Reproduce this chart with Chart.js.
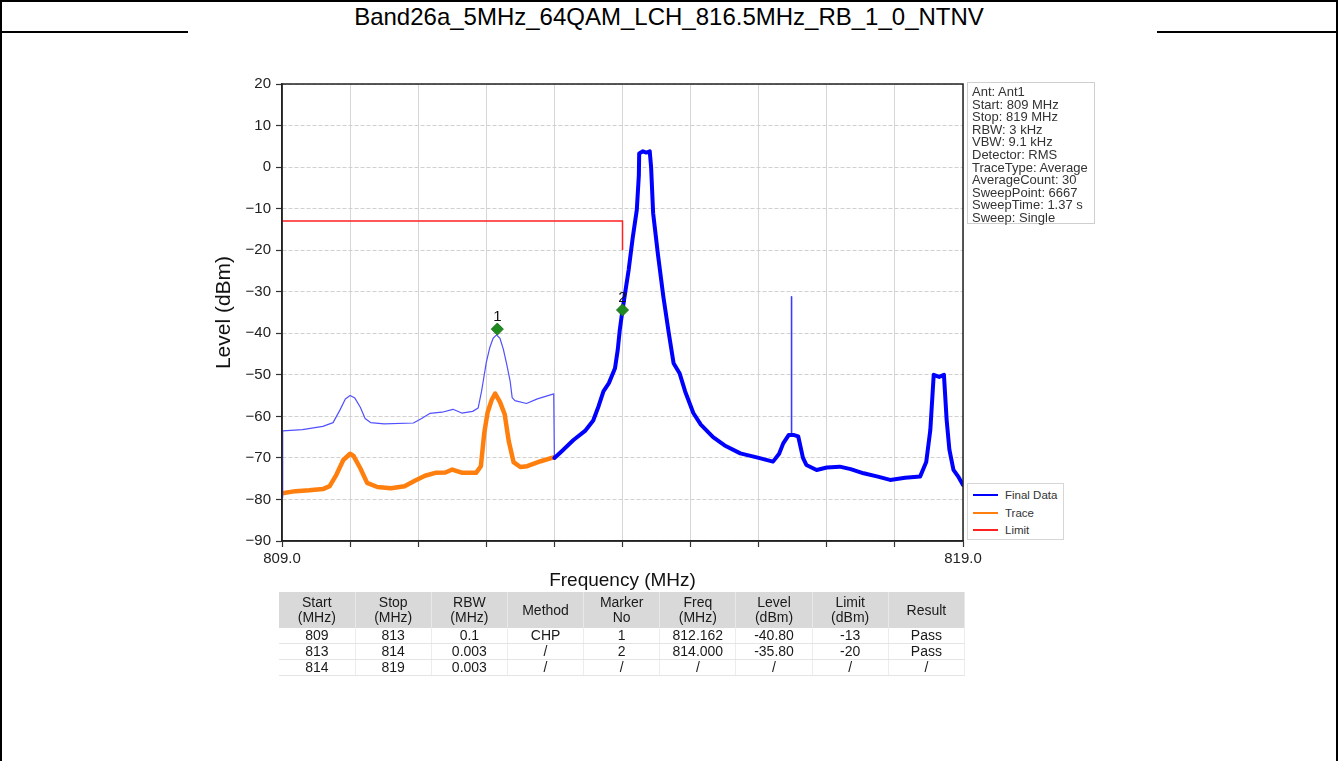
<!DOCTYPE html>
<html>
<head>
<meta charset="utf-8">
<script src="https://cdn.jsdelivr.net/npm/chart.js@4.4.1/dist/chart.umd.min.js"></script>
<style>
  html, body { margin:0; padding:0; background:#fff; width:1338px; height:761px; overflow:hidden; font-family:"Liberation Sans", Arial, sans-serif; }
  .abs { position:absolute; }
  #frame { left:0; top:0; width:1334px; height:800px; border:2px solid #000; }
  #titleRow { left:2px; top:2px; width:1334px; height:29px; border-bottom:2px solid #000; text-align:center; font-size:24px; line-height:29px; color:#000; }
  #imgArea { left:188px; top:31px; width:969px; height:660px; background:#fff; }
  #chartBox { left:200px; top:70px; width:785px; height:530px; }
  #info { left:967px; top:82px; width:128px; height:142px; border:1px solid #cfcfcf; background:#fff; font-size:13px; line-height:12.6px; color:#333; padding:3px 0 0 4px; box-sizing:border-box; white-space:nowrap; }
  #legend { left:967px; top:483px; width:95px; height:55px; border:1px solid #d6d6d6; background:#fff; font-size:11.5px; color:#333; }
  #legend .row { position:absolute; left:0; height:14px; line-height:14px; }
  #legend .sw { position:absolute; left:5px; top:6px; width:25px; height:2px; }
  #legend .tx { position:absolute; left:37px; top:0; white-space:nowrap; }
  table#tbl { left:279px; top:592px; width:686px; border-collapse:collapse; table-layout:fixed; font-size:14px; color:#1a1a1a; }
  #tbl th { background:#d9d9d9; font-weight:normal; line-height:15px; height:36px; padding:0; text-align:center; border-right:1px solid #e8e8e8; }
  #tbl td { line-height:15px; height:15px; padding:0; text-align:center; border-bottom:1px solid #e4e4e4; border-right:1px solid #ececec; }
</style>
</head>
<body>
<div id="frame" class="abs"></div>
<div id="titleRow" class="abs">Band26a_5MHz_64QAM_LCH_816.5MHz_RB_1_0_NTNV</div>
<div id="imgArea" class="abs"></div>
<div id="chartBox" class="abs"><canvas id="c"></canvas></div>
<div id="info" class="abs"></div>
<div id="legend" class="abs"></div>
<table id="tbl" class="abs"></table>

<script>
// ---------- DATA ----------
const finalFreq = [
  809.0, 809.01, 809.3, 809.6, 809.75, 809.85, 809.93, 810.0, 810.07, 810.15, 810.22, 810.3,
  810.5, 810.93, 811.05, 811.17, 811.35, 811.51, 811.64, 811.8, 811.88, 811.93, 811.96, 812.0,
  812.05, 812.1, 812.15, 812.2, 812.25, 812.3, 812.35, 812.38, 812.42, 812.59, 812.75, 812.99,
  813.0, 813.1, 813.28, 813.45, 813.57, 813.65, 813.72, 813.8, 813.89, 813.93, 813.96, 814.0,
  814.09, 814.15, 814.21, 814.24, 814.245, 814.3, 814.35, 814.4, 814.42, 814.45, 814.52, 814.6,
  814.68, 814.75, 814.84, 814.92, 815.04, 815.15, 815.33, 815.5, 815.73, 816.0, 816.21, 816.3,
  816.36, 816.44, 816.475, 816.48, 816.485, 816.52, 816.58, 816.65, 816.7, 816.85, 817.0, 817.19,
  817.35, 817.54, 817.75, 817.93, 818.15, 818.37, 818.46, 818.52, 818.57, 818.65, 818.72, 818.76,
  818.8, 818.86, 818.93, 819.0
];
const finalLevel = [
  -79.5, -63.5, -63.2, -62.4, -61.5, -58.5, -55.8, -55.0, -55.6, -57.8, -60.5, -61.5,
  -61.8, -61.6, -60.5, -59.3, -59.0, -58.3, -59.2, -58.8, -58.0, -54.0, -51.0, -47.0,
  -43.5, -41.2, -40.4, -41.2, -43.8, -47.5, -51.5, -55.5, -56.2, -56.9, -55.8, -54.6,
  -70.0, -68.5, -65.7, -63.5, -61.0, -57.5, -54.0, -52.0, -48.4, -44.0, -39.2, -34.4,
  -24.8, -17.0, -10.3, -2.0, 3.3, 3.8, 3.5, 3.8, 0.0, -11.1, -21.0, -31.2,
  -40.0, -47.2, -49.7, -54.0, -59.2, -62.0, -65.0, -67.0, -68.9, -70.0, -70.9, -69.0,
  -66.5, -64.5, -64.5, -31.2, -64.5, -64.5, -64.8, -70.0, -71.7, -72.9, -72.3, -72.1,
  -72.7, -73.7, -74.5, -75.3, -74.8, -74.5, -71.0, -63.3, -50.0, -50.5, -50.0, -60.9,
  -68.0, -72.9, -74.5, -76.5
];
const traceFreq = [
  809.0, 809.2, 809.4, 809.6, 809.7, 809.8, 809.9, 810.0, 810.05, 810.15, 810.25, 810.4,
  810.6, 810.8, 810.95, 811.1, 811.25, 811.4, 811.5, 811.65, 811.85, 811.92, 811.97, 812.02,
  812.08, 812.13, 812.2, 812.27, 812.33, 812.4, 812.5, 812.6, 812.8, 813.0
];
const traceLevel = [
  -78.5, -78.0, -77.8, -77.5, -76.8, -74.0, -70.5, -69.0, -69.5, -72.5, -76.0, -77.0,
  -77.3, -76.8, -75.5, -74.3, -73.6, -73.5, -72.8, -73.6, -73.6, -72.0, -64.0, -59.0,
  -56.0, -54.5, -56.5, -59.5, -66.0, -71.0, -72.2, -72.0, -70.8, -69.8
];
const limitFreq  = [809, 814, 814];
const limitLevel = [-13, -13, -20];
const markerFreq   = [812.162, 814.0];
const markerLevel  = [-39.0, -34.4];
const markerLabels = ['1', '2'];
const yTickValues  = [20, 10, 0, -10, -20, -30, -40, -50, -60, -70, -80, -90];
const xTickValues  = [809, 819];
const xTickLabels  = ['809.0', '819.0'];
const seriesNames  = ['Final Data', 'Trace', 'Limit'];
const seriesColors = ['#0000ff', '#ff7f0e', '#ff2020'];
const infoLines = ['Ant: Ant1', 'Start: 809 MHz', 'Stop: 819 MHz', 'RBW: 3 kHz', 'VBW: 9.1 kHz',
  'Detector: RMS', 'TraceType: Average', 'AverageCount: 30', 'SweepPoint: 6667', 'SweepTime: 1.37 s', 'Sweep: Single'];
const tableHeader = ['Start<br>(MHz)', 'Stop<br>(MHz)', 'RBW<br>(MHz)', 'Method', 'Marker<br>No', 'Freq<br>(MHz)', 'Level<br>(dBm)', 'Limit<br>(dBm)', 'Result'];
const tableRow1 = ['809', '813', '0.1', 'CHP', '1', '812.162', '-40.80', '-13', 'Pass'];
const tableRow2 = ['813', '814', '0.003', '/', '2', '814.000', '-35.80', '-20', 'Pass'];
const tableRow3 = ['814', '819', '0.003', '/', '/', '/', '/', '/', '/'];

// ---------- HTML parts ----------
document.getElementById('info').innerHTML = infoLines.map(s => '<div>' + s + '</div>').join('');
const lg = document.getElementById('legend');
seriesNames.forEach((n, i) => {
  const r = document.createElement('div');
  r.className = 'row';
  r.style.top = (4 + i * 17.5) + 'px';
  r.style.width = '95px';
  r.innerHTML = '<div class="sw" style="background:' + seriesColors[i] + ';height:' + (i === 2 ? 1.5 : 2) + 'px"></div><div class="tx">' + n + '</div>';
  lg.appendChild(r);
});
const tbl = document.getElementById('tbl');
let html = '<tr>' + tableHeader.map(h => '<th>' + h + '</th>').join('') + '</tr>';
[tableRow1, tableRow2, tableRow3].forEach(r => { html += '<tr>' + r.map(c => '<td>' + c + '</td>').join('') + '</tr>'; });
tbl.innerHTML = html;

// ---------- CHART ----------
const zip = (xs, ys) => xs.map((x, i) => ({ x: x, y: ys[i] }));
const FONT = '"Liberation Sans", Arial, sans-serif';

const framePlugin = {
  id: 'frameAndLabels',
  afterDatasetsDraw(chart) {
    const { ctx, chartArea: a, scales } = chart;
    ctx.save();
    ctx.strokeStyle = '#222';
    ctx.lineWidth = 1.5;
    ctx.strokeRect(a.left, a.top, a.right - a.left, a.bottom - a.top);
    ctx.fillStyle = '#111';
    ctx.font = '15px ' + FONT;
    ctx.textAlign = 'center';
    ctx.textBaseline = 'bottom';
    markerFreq.forEach((f, i) => {
      const px = scales.x.getPixelForValue(f);
      const py = scales.y.getPixelForValue(markerLevel[i]);
      ctx.fillText(markerLabels[i], px, py - 5);
    });
    ctx.restore();
  }
};

// style helpers: thin RBW-0.1 part before 813 MHz, thin narrow spike
const isThin = ctx => ctx.p0.parsed.x < 813;
const isSpike = ctx => ctx.p0.parsed.x >= 816.47 && ctx.p1.parsed.x <= 816.49;

new Chart(document.getElementById('c'), {
  type: 'line',
  data: {
    datasets: [
      {
        label: 'Markers',
        data: zip(markerFreq, markerLevel),
        showLine: false,
        pointStyle: 'rectRot',
        pointRadius: 6,
        pointBackgroundColor: '#1f8a1f',
        pointBorderColor: '#1a6e1a',
        pointBorderWidth: 1
      },
      {
        label: seriesNames[2],
        data: zip(limitFreq, limitLevel),
        borderColor: seriesColors[2],
        borderWidth: 1.5,
        pointRadius: 0,
        tension: 0
      },
      {
        label: seriesNames[0],
        data: zip(finalFreq, finalLevel),
        borderColor: seriesColors[0],
        borderWidth: 4,
        borderJoinStyle: 'round',
        borderCapStyle: 'round',
        pointRadius: 0,
        tension: 0,
        segment: {
          borderWidth: ctx => isThin(ctx) ? 1.2 : (isSpike(ctx) ? 1.6 : 4),
          borderColor: ctx => isThin(ctx) ? '#5050ff' : (isSpike(ctx) ? '#3b3bff' : '#0000ff')
        }
      },
      {
        label: seriesNames[1],
        data: zip(traceFreq, traceLevel),
        borderColor: seriesColors[1],
        borderWidth: 4.5,
        borderJoinStyle: 'round',
        pointRadius: 0,
        tension: 0
      }
    ]
  },
  options: {
    responsive: true,
    maintainAspectRatio: false,
    animation: false,
    events: [],
    layout: { padding: { top: 14, right: 22, left: 0, bottom: 0 } },
    plugins: { legend: { display: false }, tooltip: { enabled: false }, title: { display: false } },
    scales: {
      x: {
        type: 'linear',
        min: 809, max: 819,
        afterFit: s => { s.height = 59; },
        ticks: {
          stepSize: 1, autoSkip: false, maxRotation: 0, padding: 3,
          color: '#222', font: { family: FONT, size: 15 },
          callback: v => { const k = xTickValues.indexOf(v); return k >= 0 ? xTickLabels[k] : ''; }
        },
        grid: { color: '#d6d6d6', lineWidth: 1, tickColor: '#333', tickLength: 6, tickWidth: 1.2 },
        border: { display: true, color: '#222', width: 1.5 },
        title: { display: true, text: 'Frequency (MHz)', color: '#111', font: { family: FONT, size: 19 }, padding: { top: 0, bottom: 8 } }
      },
      y: {
        type: 'linear',
        min: -90, max: 20,
        afterFit: s => { s.width = 82; },
        afterBuildTicks: s => { s.ticks = yTickValues.map(v => ({ value: v })); },
        ticks: {
          autoSkip: false, padding: 5,
          color: '#222', font: { family: FONT, size: 15 },
          callback: v => String(v).replace('-', '\u2212')
        },
        grid: { color: '#d0d0d0', lineWidth: 1, tickColor: '#333', tickLength: 6, tickWidth: 1.2 },
        border: { display: true, color: '#222', width: 1.5, dash: [4, 2] },
        title: { display: true, text: 'Level (dBm)', color: '#111', font: { family: FONT, size: 21 }, padding: { top: 12, bottom: 0 } }
      }
    }
  },
  plugins: [framePlugin]
});
</script>
</body>
</html>
